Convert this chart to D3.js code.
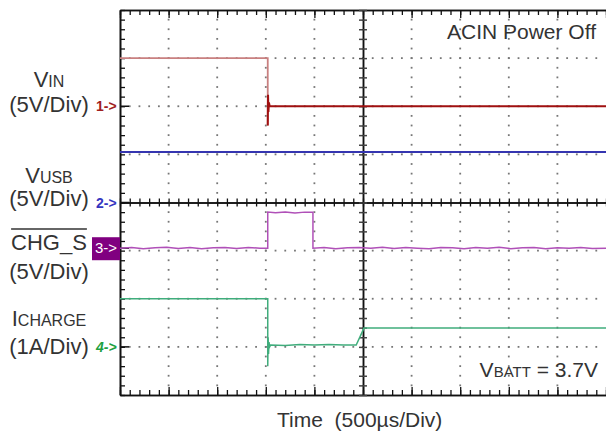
<!DOCTYPE html>
<html>
<head>
<meta charset="utf-8">
<script src="https://cdn.jsdelivr.net/npm/d3@7"></script>
<style>
  body { margin: 0; background: #fff; }
  text { font-family: "Liberation Sans", Arial, sans-serif; fill: #333; }
</style>
</head>
<body>
<svg id="chart" width="606" height="435"></svg>
<script>
// time axis: 500us/div, 10 divisions
const timeDomain = [0, 5000];

// channel 1: V_IN (5V/div), ground at +2 div
const vinT = [0, 1520, 1520, 1523, 1527, 1532, 1540, 5000];
const vinV = [5, 5, -2, 1.2, -0.6, 0.4, 0, 0];

// channel 2: V_USB (5V/div), ground at 0 div
const vusbT = [0, 5000];
const vusbV = [5.25, 5.25];

// channel 3: CHG_S (5V/div), ground at -0.95 div
const chgT = [0, 120, 240, 360, 480, 600, 720, 840, 960, 1080, 1200, 1320, 1440, 1520,
  1520, 1600, 1700, 1800, 1900, 1985, 1985, 2100, 2220, 2340, 2460, 2580, 2700, 2820,
  2940, 3060, 3180, 3300, 3420, 3540, 3660, 3780, 3900, 4020, 4140, 4260, 4380, 4500,
  4620, 4740, 4860, 5000];
const chgV = [0, 0.08, -0.06, 0.04, 0.1, -0.04, 0.08, -0.06, 0.04, 0.08, -0.04, 0.08, 0, 0,
  3.75, 3.68, 3.75, 3.65, 3.75, 3.75, 0, 0.08, -0.06, 0.04, 0.08, 0, 0.1, -0.04,
  0.08, 0, -0.06, 0.08, 0.04, -0.06, 0.08, 0, 0.1, -0.05, 0.04, 0.08, -0.06, 0.06,
  0, 0.08, -0.04, 0];

// channel 4: I_CHARGE (1A/div), ground at -3 div
const ichgT = [0, 1520, 1520, 1524, 1528, 1533, 1540, 1550, 1700, 1850, 2000, 2150, 2300, 2430, 2490, 2510, 5000];
const ichgV = [1.0, 1.0, -0.4, 0.2, -0.15, 0.1, 0.0, 0.04, 0.03, 0.05, 0.04, 0.05, 0.04, 0.04, 0.3, 0.39, 0.39];

const channels = [
  { t: vinT, v: vinV, offset: 2, perDiv: 5, color: "#a01010" },
  { t: vusbT, v: vusbV, offset: 0, perDiv: 5, color: "#3535b0" },
  { t: chgT, v: chgV, offset: -0.95, perDiv: 5, color: "#b050b8" },
  { t: ichgT, v: ichgV, offset: -3, perDiv: 1, color: "#40ad7c" }
];

const svg = d3.select("#chart");
const x = d3.scaleLinear().domain(timeDomain).range([120, 606]);
const y = d3.scaleLinear().domain([-4, 4]).range([395, 10]);

const divX = d3.range(0, 5001, 500);
const minorX = d3.range(0, 5001, 100);
const divY = d3.range(-4, 4.01, 1);
const minorY = d3.range(-4, 4.01, 0.2);

// dotted grid
const grid = svg.append("g").attr("fill", "#777");
divX.filter(d => d > 0 && d < 5000 && d !== 2500).forEach(t => {
  grid.selectAll(null).data(minorY.filter(v => v > -4 && v < 4)).enter()
    .append("rect").attr("x", x(t) - 0.9).attr("y", d => y(d) - 0.9)
    .attr("width", 1.8).attr("height", 1.8);
});
divY.filter(d => d > -4 && d < 4 && d !== 0).forEach(v => {
  grid.selectAll(null).data(minorX.filter(t => t > 0 && t < 5000)).enter()
    .append("rect").attr("x", d => x(d) - 0.9).attr("y", y(v) - 0.9)
    .attr("width", 1.8).attr("height", 1.8);
});

// frame and center axes built from d3 axes
function axisG(axis, tx, ty) {
  const g = svg.append("g").attr("transform", `translate(${tx},${ty})`).call(axis);
  g.selectAll("text").remove();
  g.select(".domain").attr("stroke", "#111").attr("stroke-width", 1.5);
  g.selectAll(".tick line").attr("stroke", "#111").attr("stroke-width", 1.3);
  return g;
}
const noLabel = () => "";
// top edge
axisG(d3.axisBottom(x).tickValues(minorX).tickSize(5).tickSizeOuter(0).tickFormat(noLabel), 0, y(4));
axisG(d3.axisBottom(x).tickValues(divX).tickSize(8).tickSizeOuter(0).tickFormat(noLabel), 0, y(4));
// bottom edge
axisG(d3.axisTop(x).tickValues(minorX).tickSize(5).tickSizeOuter(0).tickFormat(noLabel), 0, y(-4));
axisG(d3.axisTop(x).tickValues(divX).tickSize(8).tickSizeOuter(0).tickFormat(noLabel), 0, y(-4));
// left edge
axisG(d3.axisRight(y).tickValues(minorY).tickSize(5).tickSizeOuter(0).tickFormat(noLabel), x(0), 0)
  .select(".domain").attr("stroke-width", 2);
// horizontal center axis
axisG(d3.axisTop(x).tickValues(minorX).tickSize(4).tickSizeOuter(0).tickFormat(noLabel), 0, y(0));
axisG(d3.axisBottom(x).tickValues(minorX).tickSize(4).tickSizeOuter(0).tickFormat(noLabel), 0, y(0));
// vertical center axis
axisG(d3.axisLeft(y).tickValues(minorY).tickSize(4).tickSizeOuter(0).tickFormat(noLabel), x(2500), 0)
  .selectAll(".tick line").attr("stroke", "#444").attr("stroke-width", 1.5);
axisG(d3.axisRight(y).tickValues(minorY).tickSize(4).tickSizeOuter(0).tickFormat(noLabel), x(2500), 0)
  .selectAll(".tick line").attr("stroke", "#444").attr("stroke-width", 1.5);

// channel reference markers on left edge
channels.forEach(c => {
  svg.append("line").attr("x1", x(0)).attr("x2", x(0) + 9)
    .attr("y1", y(c.offset)).attr("y2", y(c.offset))
    .attr("stroke", "#111").attr("stroke-width", 1.5);
});

// traces
const plot = svg.append("g");
channels.forEach((c, ci) => {
  const pts = c.t.map((t, i) => [x(t), y(c.offset + c.v[i] / c.perDiv)]);
  const line = d3.line();
  if (ci === 0) {
    // V_IN: faded before the drop, solid after
    plot.append("path").attr("d", line(pts.slice(0, 3)))
      .attr("fill", "none").attr("stroke", "#c98080").attr("stroke-width", 1.8);
    plot.append("path").attr("d", line(pts.slice(2)))
      .attr("fill", "none").attr("stroke", c.color).attr("stroke-width", 2);
  } else {
    plot.append("path").attr("d", line(pts))
      .attr("fill", "none").attr("stroke", c.color)
      .attr("stroke-width", ci === 1 ? 2 : 1.5);
  }
});

// left labels
const lab = svg.append("g").attr("text-anchor", "middle").attr("font-size", 22);
function subLabel(main, sub, cx, by) {
  const t = lab.append("text").attr("x", cx).attr("y", by);
  t.append("tspan").text(main);
  t.append("tspan").attr("font-size", 16).text(sub);
  return t;
}
subLabel("V", "IN", 49, 87);
lab.append("text").attr("x", 49).attr("y", 112).text("(5V/Div)");
subLabel("V", "USB", 49, 183);
lab.append("text").attr("x", 49).attr("y", 206).text("(5V/Div)");
const chg = lab.append("text").attr("x", 49).attr("y", 250).text("CHG_S");
const bb = chg.node().getBBox();
svg.append("line").attr("x1", bb.x).attr("x2", bb.x + bb.width)
  .attr("y1", 229).attr("y2", 229).attr("stroke", "#333").attr("stroke-width", 1.5);
lab.append("text").attr("x", 49).attr("y", 279).text("(5V/Div)");
subLabel("I", "CHARGE", 49, 326);
lab.append("text").attr("x", 49).attr("y", 354).text("(1A/Div)");

// channel tags
const tags = svg.append("g").attr("font-size", 14).attr("font-weight", "bold");
tags.append("text").attr("x", 96).attr("y", y(2) + 5).style("fill", "#a02020").text("1->");
tags.append("text").attr("x", 96).attr("y", y(0) + 5).style("fill", "#3535c0").text("2->");
svg.append("rect").attr("x", 92).attr("y", y(-0.95) - 11).attr("width", 28).attr("height", 23)
  .attr("fill", "#800080");
svg.append("text").attr("x", 95).attr("y", y(-0.95) + 5).attr("font-size", 15)
  .style("fill", "#fff").text("3->");
tags.append("text").attr("x", 96).attr("y", y(-3) + 5).attr("font-style", "italic")
  .style("fill", "#20a040").text("4->");

// annotations
svg.append("text").attr("x", 596).attr("y", 39).attr("text-anchor", "end")
  .attr("font-size", 21).text("ACIN Power Off");
const vb = svg.append("text").attr("x", 598).attr("y", 377).attr("text-anchor", "end")
  .attr("font-size", 21);
vb.append("tspan").text("V");
vb.append("tspan").attr("font-size", 15).text("BATT");
vb.append("tspan").text(" = 3.7V");
svg.append("text").attr("x", 277).attr("y", 427).attr("font-size", 21)
  .style("white-space", "pre").text("Time  (500µs/Div)");
</script>
</body>
</html>
